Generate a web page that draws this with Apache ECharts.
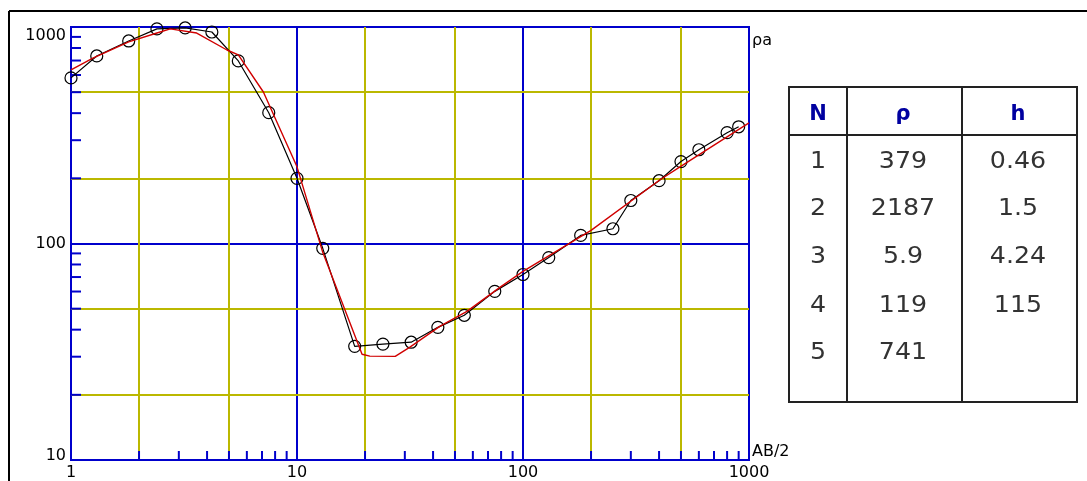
<!DOCTYPE html>
<html><head><meta charset="utf-8">
<script src="https://cdn.jsdelivr.net/npm/echarts@6/dist/echarts.min.js"></script>
<style>html,body{margin:0;padding:0;background:#fff}#c{width:1087px;height:481px}</style>
</head><body><div id="c"></div>
<script>
// Observed sounding (AB/2 vs apparent resistivity)
const abHalf = [1, 1.3, 1.8, 2.4, 3.2, 4.2, 5.5, 7.5, 10, 13, 18, 24, 32, 42, 55, 75, 100, 130, 180, 250, 300, 400, 500, 600, 800, 900];
const rhoObserved = [582, 735, 862, 980, 990, 948, 697, 402, 200, 95, 33.5, 34.3, 35.0, 41.0, 46.6, 60.1, 71.9, 86.1, 109, 117, 158, 195, 239, 271, 325, 346];
// Model curve
const modelAB = [1, 1.25, 1.8, 2.4, 2.75, 3.6, 4.9, 5.5, 7.1, 10, 13, 19.4, 21, 27.2, 31.6, 43, 56.5, 79, 100, 200, 404, 495, 1000];
const rhoModel = [634, 719, 853, 938, 980, 938, 783, 743, 501, 226, 91, 30.8, 30.2, 30.1, 33.2, 41.5, 48.6, 62.7, 74.3, 115, 197, 226, 361];
// Axis ticks / grid
const xMinorTicks = [2,3,4,5,6,7,8,9,20,30,40,50,60,70,80,90,200,300,400,500,600,700,800,900];
const yMinorTicks = [20,30,40,50,60,70,80,90,200,300,400,500,600,700,800,900];
const xYellowGrid = [2,5,20,50,200,500];
const yYellowGrid = [20,50,200,500];
// Layer table
const tableHeader = ['N', 'ρ', 'h'];
const layerN = ['1','2','3','4','5'];
const layerRho = ['379','2187','5.9','119','741'];
const layerH = ['0.46','1.5','4.24','115',''];

const BLUE = '#0000cc', YELLOW = '#bbb800', RED = '#d00000';
const FONT = 'DejaVu Sans';

const chart = echarts.init(document.getElementById('c'));

const tableGraphic = [];
const TX = 789, TY = 87, TW = 288, TH = 315;
tableGraphic.push({type:'rect', shape:{x:TX, y:TY, width:TW, height:TH}, style:{fill:'none', stroke:'#222', lineWidth:2}});
tableGraphic.push({type:'line', shape:{x1:TX, y1:135, x2:TX+TW, y2:135}, style:{stroke:'#222', lineWidth:2}});
tableGraphic.push({type:'line', shape:{x1:847, y1:TY, x2:847, y2:TY+TH}, style:{stroke:'#222', lineWidth:2}});
tableGraphic.push({type:'line', shape:{x1:962, y1:TY, x2:962, y2:TY+TH}, style:{stroke:'#222', lineWidth:2}});
const colX = [818, 903, 1018];
tableHeader.forEach((t, i) => {
  tableGraphic.push({type:'text', x: colX[i], y: 115, style:{text:t, fill:'#0000a0', font:'bold 21px ' + FONT, align:'center', verticalAlign:'middle'}});
});
const rowY = [162, 209, 257, 306, 353];
const cols = [layerN, layerRho, layerH];
cols.forEach((col, ci) => {
  col.forEach((t, ri) => {
    tableGraphic.push({type:'text', x: colX[ci], y: rowY[ri], scaleX: 1.1, style:{text:t, fill:'#333', font:'23px ' + FONT, align:'center', verticalAlign:'middle'}});
  });
});

const labelStyle = {color:'#000', fontFamily: FONT, fontSize: 16};

chart.setOption({
  animation: false,
  backgroundColor: '#fff',
  grid: {left: 71, right: 338, top: 27, bottom: 20, show: true, borderColor: BLUE, borderWidth: 2},
  xAxis: {
    type: 'log', logBase: 10, min: 1, max: 1000,
    name: 'AB/2', nameLocation: 'end', nameGap: 3,
    nameTextStyle: {color:'#000', fontFamily: FONT, fontSize: 16, align:'left', verticalAlign:'bottom'},
    axisLine: {show: true, lineStyle: {color: BLUE, width: 2}},
    axisTick: {show: false},
    axisLabel: Object.assign({margin: 5, formatter: v => String(Math.round(v))}, labelStyle),
    splitLine: {show: true, lineStyle: {color: BLUE, width: 2}}
  },
  yAxis: {
    type: 'log', logBase: 10, min: 10, max: 1000,
    axisLine: {show: true, lineStyle: {color: BLUE, width: 2}},
    axisTick: {show: false},
    axisLabel: Object.assign({
      margin: 5,
      formatter: v => { const r = Math.round(v); return r === 1000 ? '{t|1000}' : r === 10 ? '{b|10}' : String(r); },
      rich: {
        t: Object.assign({padding: [18, 0, 0, 0]}, labelStyle),
        b: Object.assign({padding: [0, 0, 8, 0]}, labelStyle)
      }
    }, labelStyle),
    splitLine: {show: true, lineStyle: {color: BLUE, width: 2}}
  },
  graphic: [
    {type:'line', shape:{x1:9, y1:11, x2:1087, y2:11}, style:{stroke:'#000', lineWidth:2}},
    {type:'line', shape:{x1:9, y1:11, x2:9, y2:481}, style:{stroke:'#000', lineWidth:2}},
    {type:'text', x: 752, y: 41, style:{text:'ρa', fill:'#000', font:'16px ' + FONT, align:'left', verticalAlign:'middle'}}
  ].concat(tableGraphic),
  series: [
    {
      type: 'line', data: [], z: 1, silent: true,
      markLine: {
        silent: true, symbol: 'none', z: 1, animation: false,
        label: {show: false},
        lineStyle: {color: YELLOW, width: 2, type: 'solid'},
        emphasis: {disabled: true},
        data: xYellowGrid.map(v => ({xAxis: v})).concat(yYellowGrid.map(v => ({yAxis: v})))
      }
    },
    {
      type: 'custom', z: 2, silent: true, clip: false,
      data: xMinorTicks.map(v => [v, 10]),
      renderItem: (params, api) => {
        const p = api.coord([api.value(0), api.value(1)]);
        return {type:'line', shape:{x1:p[0], y1:p[1], x2:p[0], y2:p[1]-9}, style:{stroke: BLUE, lineWidth: 2}};
      }
    },
    {
      type: 'custom', z: 2, silent: true, clip: false,
      data: yMinorTicks.map(v => [1, v]),
      renderItem: (params, api) => {
        const p = api.coord([api.value(0), api.value(1)]);
        return {type:'line', shape:{x1:p[0], y1:p[1], x2:p[0]+10, y2:p[1]}, style:{stroke: BLUE, lineWidth: 2}};
      }
    },
    {
      type: 'line', z: 4, silent: true,
      data: abHalf.map((x, i) => [x, rhoObserved[i]]),
      symbol: 'circle', symbolSize: 12, showSymbol: true,
      itemStyle: {color: 'rgba(0,0,0,0)', borderColor: '#000', borderWidth: 1.2},
      lineStyle: {color: '#000', width: 1.2}
    },
    {
      type: 'line', z: 5, silent: true,
      data: modelAB.map((x, i) => [x, rhoModel[i]]),
      symbol: 'none',
      lineStyle: {color: RED, width: 1.4}
    }
  ]
});
</script>
</body></html>
